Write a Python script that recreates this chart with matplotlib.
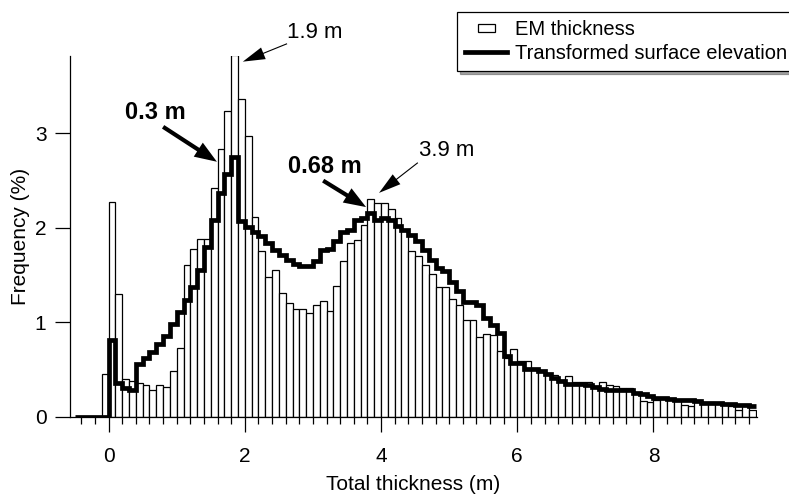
import numpy as np
import matplotlib
matplotlib.use("Agg")
import matplotlib.pyplot as plt
from matplotlib.patches import Rectangle
from matplotlib.lines import Line2D
from matplotlib.legend_handler import HandlerPatch

plt.rcParams['font.family'] = ['Liberation Sans', 'DejaVu Sans']

# ---- data ----
bin_width = 0.1
em_start = -0.1
em_thickness = [
    0.45, 2.27, 1.30, 0.40, 0.38, 0.36, 0.34, 0.28, 0.34, 0.31, 0.48,
    0.73, 1.61, 1.78, 1.88, 1.88, 2.42, 2.83, 3.24, 3.83, 3.36,
    2.97, 2.12, 1.76, 1.48, 1.55, 1.31, 1.20, 1.14, 1.14, 1.10,
    1.18, 1.23, 1.12, 1.38, 1.65, 1.84, 1.87, 2.03, 2.31, 2.26,
    2.26, 2.20, 2.10, 1.98, 1.76, 1.70, 1.61, 1.51, 1.37, 1.37,
    1.25, 1.18, 1.02, 1.02, 0.84, 0.88, 0.86, 0.70, 0.62, 0.72,
    0.59, 0.59, 0.50, 0.48, 0.46, 0.44, 0.39, 0.43, 0.37, 0.37,
    0.37, 0.33, 0.37, 0.34, 0.33, 0.30, 0.30, 0.25, 0.17, 0.16,
    0.18, 0.20, 0.19, 0.18, 0.12, 0.11, 0.18, 0.16, 0.16, 0.15,
    0.14, 0.11, 0.07, 0.12, 0.07,
]
line_start = -0.5
surface_elev = [
    0.0, 0.0, 0.0, 0.0, 0.0,
    0.81, 0.36, 0.30, 0.28, 0.56, 0.62, 0.69, 0.77, 0.85, 0.98,
    1.11, 1.24, 1.37, 1.55, 1.80, 2.08, 2.37, 2.57, 2.75, 2.07,
    2.01, 1.96, 1.91, 1.84, 1.77, 1.71, 1.66, 1.62, 1.60, 1.60,
    1.65, 1.77, 1.78, 1.86, 1.96, 1.98, 2.08, 2.10, 2.16, 2.08,
    2.10, 2.08, 2.02, 1.98, 1.92, 1.86, 1.77, 1.66, 1.58, 1.54,
    1.43, 1.33, 1.22, 1.22, 1.18, 1.04, 0.97, 0.89, 0.64, 0.57,
    0.57, 0.51, 0.51, 0.48, 0.45, 0.41, 0.38, 0.35, 0.35, 0.35,
    0.34, 0.31, 0.29, 0.28, 0.28, 0.28, 0.28, 0.25, 0.24, 0.22,
    0.20, 0.20, 0.19, 0.18, 0.18, 0.18, 0.17, 0.15, 0.15, 0.14,
    0.13, 0.13, 0.12, 0.12, 0.11,
]
x_major = [0, 2, 4, 6, 8]
y_major = [0, 1, 2, 3]

# annotations: (text, text_xy, tail_xy, tip_xy, bold)
annotations = [
    ("1.9 m", (3.02, 4.07), (2.62, 3.95), (1.97, 3.76), False),
    ("0.3 m", (0.68, 3.22), (0.80, 3.07), (1.59, 2.70), True),
    ("0.68 m", (3.18, 2.65), (3.15, 2.50), (3.78, 2.22), True),
    ("3.9 m", (4.97, 2.82), (4.54, 2.69), (3.97, 2.37), False),
]

# ---- figure ----
fig = plt.figure(figsize=(7.89, 4.95), dpi=100)
ax = fig.add_axes([70/789, (495-416.7)/495, (757-70)/789, (416.7-56)/495])

em_left = em_start + bin_width*np.arange(len(em_thickness))
ax.bar(em_left, em_thickness, width=bin_width, align='edge',
       facecolor='white', edgecolor='black', linewidth=0.9, zorder=2)

edges = line_start + bin_width*np.arange(len(surface_elev)+1)
ax.stairs(surface_elev, edges, color='black', linewidth=3.4, baseline=None,
          zorder=3)

ax.set_xlim(-0.567, 9.52)
ax.set_ylim(0, 3.82)
for s in ['top', 'right']:
    ax.spines[s].set_visible(False)
ax.spines['left'].set_linewidth(0.9)
ax.spines['bottom'].set_linewidth(0.9)

ax.set_xticks(x_major)
ax.set_xticks(np.arange(-0.4, 9.5, 0.2), minor=True)
ax.set_yticks(y_major)
ax.tick_params(axis='x', which='major', direction='out', length=11, width=0.9,
               pad=11, labelsize=15)
ax.tick_params(axis='x', which='minor', direction='out', length=5, width=0.9)
ax.tick_params(axis='y', which='major', direction='out', length=11, width=0.9,
               pad=6, labelsize=15)

ax.set_xlabel("Total thickness (m)", fontsize=15, labelpad=6)
ax.set_ylabel("Frequency (%)", fontsize=15, labelpad=3)

for txt, txy, tail, tip, bold in annotations:
    if bold:
        style = 'simple,head_length=1.6,head_width=1.2,tail_width=0.3'
    else:
        style = 'simple,head_length=1.6,head_width=0.9,tail_width=0.08'
    ax.annotate('', xy=tip, xytext=tail,
                arrowprops=dict(arrowstyle=style, fc='black', ec='none',
                                shrinkA=0, shrinkB=0, mutation_scale=10),
                annotation_clip=False)
    ax.text(txy[0], txy[1], txt, ha='center', va='center',
            fontsize=17 if bold else 16,
            fontweight='bold' if bold else 'normal', clip_on=False)

def make_small_rect(legend, orig_handle, xdescent, ydescent, width, height, fontsize):
    w = width*0.4
    h = height*0.6
    return Rectangle((xdescent + (width-w)/2, ydescent + (height-h)/2), w, h)

h_bar = Rectangle((0, 0), 1, 1, facecolor='white', edgecolor='black', linewidth=0.9)
h_line = Line2D([], [], color='black', linewidth=3.4)
leg = fig.legend([h_bar, h_line], ["EM thickness", "Transformed surface elevation"],
                 loc='upper left', bbox_to_anchor=(457/789, 1-12/495),
                 fontsize=14.5, frameon=True, fancybox=False, shadow=True,
                 handlelength=2.1, handletextpad=0.4, labelspacing=0.25,
                 borderpad=0.4, borderaxespad=0,
                 handler_map={Rectangle: HandlerPatch(patch_func=make_small_rect)})
leg.get_frame().set_edgecolor('black')
leg.get_frame().set_linewidth(0.9)

fig.savefig("out.png", dpi=100)
